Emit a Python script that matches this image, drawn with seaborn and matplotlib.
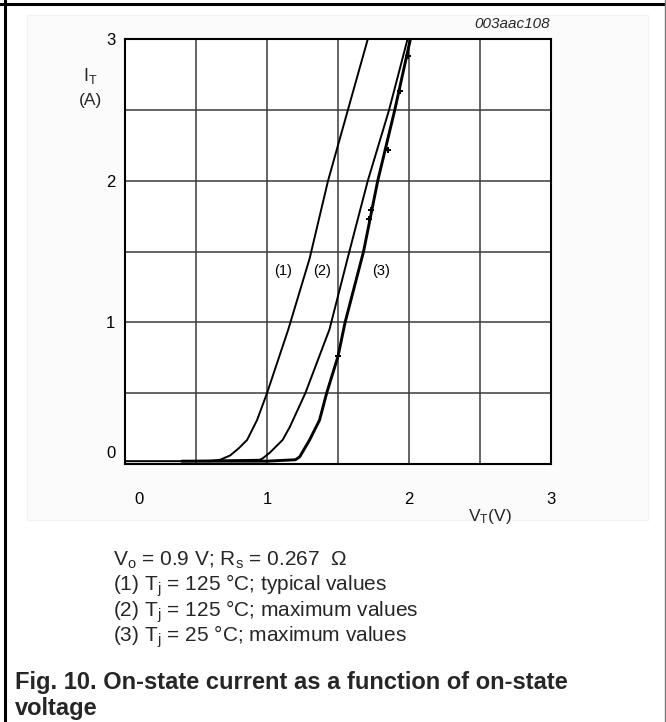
import numpy as np
import pandas as pd
import matplotlib
matplotlib.use("Agg")
import matplotlib.pyplot as plt
import seaborn as sns
from matplotlib.lines import Line2D
from matplotlib.patches import Rectangle
import matplotlib.transforms as mtransforms

# ---- data ----
v_curve1 = [0.00, 0.60, 0.67, 0.74, 0.80, 0.86, 0.93, 1.00, 1.15, 1.30, 1.43, 1.57, 1.71]
i_curve1 = [0.02, 0.02, 0.03, 0.06, 0.11, 0.17, 0.31, 0.50, 0.95, 1.45, 2.00, 2.50, 3.00]

v_curve2 = [0.40, 0.95, 0.97, 1.02, 1.11, 1.16, 1.27, 1.44, 1.58, 1.71, 1.86, 1.99]
i_curve2 = [0.02, 0.03, 0.04, 0.08, 0.17, 0.26, 0.50, 0.95, 1.50, 2.00, 2.50, 3.00]

v_curve3 = [0.40, 1.00, 1.20, 1.23, 1.30, 1.37, 1.42, 1.50, 1.55, 1.68, 1.78, 1.90, 2.01]
i_curve3 = [0.02, 0.02, 0.03, 0.05, 0.17, 0.31, 0.50, 0.76, 1.00, 1.50, 2.00, 2.50, 3.00]

v_marks3 = [1.50, 1.72, 1.73, 1.85, 1.94, 1.99]
i_marks3 = [0.76, 1.73, 1.79, 2.22, 2.63, 2.88]

curve_labels = ["(1)", "(2)", "(3)"]
label_v = [1.11, 1.39, 1.80]
label_i = [1.36, 1.36, 1.36]

x_ticks = [0, 1, 2, 3]
y_ticks = [0, 1, 2, 3]
grid_step = 0.5

legend_lines = [
    r"V$_{o}$ = 0.9 V; R$_{s}$ = 0.267  Ω",
    r"(1) T$_{j}$ = 125 °C; typical values",
    r"(2) T$_{j}$ = 125 °C; maximum values",
    r"(3) T$_{j}$ = 25 °C; maximum values",
]
caption_lines = ["Fig. 10. On-state current as a function of on-state", "voltage"]
code_label = "003aac108"

# ---- styling ----
sns.set_theme(style="white")
plt.rcParams["font.family"] = ["Liberation Sans", "DejaVu Sans"]
plt.rcParams["mathtext.default"] = "regular"

W, H = 666, 722
fig = plt.figure(figsize=(W / 100, H / 100), dpi=100)
fig.patch.set_facecolor("white")

def fx(px):
    return px / W

def fy(py):
    return 1 - py / H

# faint background panel
fig.add_artist(Rectangle((fx(27), fy(520)), fx(648) - fx(27), fy(15) - fy(520),
                         transform=fig.transFigure, facecolor="#fbfbfb",
                         edgecolor="#f2f2f2", lw=0.8, zorder=0))

ax = fig.add_axes([fx(125), fy(464), fx(551) - fx(125), fy(39) - fy(464)])
ax.set_facecolor("white")

df = pd.concat([
    pd.DataFrame({"V": v_curve1, "I": i_curve1, "curve": "1"}),
    pd.DataFrame({"V": v_curve2, "I": i_curve2, "curve": "2"}),
    pd.DataFrame({"V": v_curve3, "I": i_curve3, "curve": "3"}),
])
for name, lw in [("1", 1.4), ("2", 1.4), ("3", 2.1)]:
    sub = df[df["curve"] == name]
    sns.lineplot(data=sub, x="V", y="I", ax=ax, color="black", lw=lw,
                 sort=False, estimator=None, legend=False, zorder=3)
sns.scatterplot(x=v_marks3, y=i_marks3, ax=ax, color="black", marker="P",
                s=22, linewidth=0, zorder=4, legend=False)

ax.set_xlim(0, 3)
ax.set_ylim(0, 3)
ax.set_xticks(np.arange(0, 3.01, grid_step))
ax.set_yticks(np.arange(0, 3.01, grid_step))
ax.grid(True, color="#3a3a3a", lw=1.1)
ax.set_axisbelow(True)
ax.tick_params(length=0, labelsize=12, colors="black")
ax.tick_params(axis="x", pad=20)
ax.tick_params(axis="y", pad=7)
ax.set_xticklabels([str(int(t)) if float(t).is_integer() else "" for t in ax.get_xticks()])
ax.set_yticklabels([str(int(t)) if float(t).is_integer() else "" for t in ax.get_yticks()])
for s in ax.spines.values():
    s.set_color("black")
    s.set_linewidth(1.5)
ax.set_xlabel("")
ax.set_ylabel("")

# shift the '0' tick labels as in the reference
xl = ax.get_xticklabels()[0]
xl.set_transform(xl.get_transform() + mtransforms.ScaledTranslation(14 / 100, 0, fig.dpi_scale_trans))
yl = ax.get_yticklabels()[0]
yl.set_transform(yl.get_transform() + mtransforms.ScaledTranslation(0, 12 / 100, fig.dpi_scale_trans))

for lab, lv, li in zip(curve_labels, label_v, label_i):
    ax.text(lv, li, lab, fontsize=10.5, ha="center", va="center", color="black")

# axis labels
fig.text(fx(90), fy(76), r"I$_{T}$", fontsize=13, ha="center", va="center")
fig.text(fx(90), fy(101), "(A)", fontsize=12.5, ha="center", va="center")
fig.text(fx(490), fy(517), r"V$_{T}$(V)", fontsize=12.5, ha="center", va="center")
fig.text(fx(550), fy(24), code_label, fontsize=11, style="italic", ha="right", va="center")

# legend block
for k, line in enumerate(legend_lines):
    fig.text(fx(113), fy(560 + 25.7 * k), line, fontsize=15, ha="left", va="center")

for k, line in enumerate(caption_lines):
    fig.text(fx(15), fy(683 + 26 * k), line, fontsize=17, fontweight="bold",
             ha="left", va="center")

# page frame lines
fig.add_artist(Line2D([0, 1], [fy(4), fy(4)], transform=fig.transFigure, color="black", lw=2.2))
fig.add_artist(Line2D([fx(5), fx(5)], [0, 1], transform=fig.transFigure, color="black", lw=2.2))
fig.add_artist(Line2D([fx(665), fx(665)], [0, 1], transform=fig.transFigure, color="#777777", lw=1.0))

fig.savefig("out.png", dpi=100, facecolor="white")
